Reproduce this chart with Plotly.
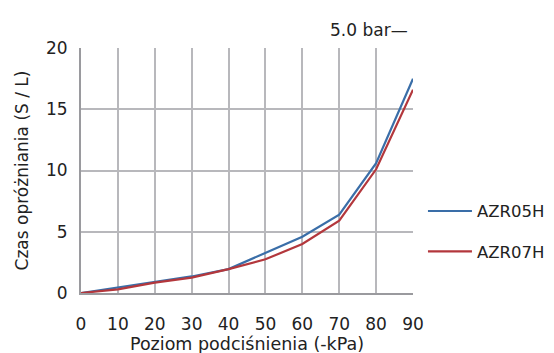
import plotly.graph_objects as go

pressure_kpa = [0, 10, 20, 30, 40, 50, 60, 70, 80, 90]
azr05h = [0, 0.45, 0.85, 1.35, 1.95, 3.3, 4.6, 6.4, 10.6, 17.5]
azr07h = [0, 0.3, 0.85, 1.25, 1.95, 2.75, 4.0, 5.9, 10.1, 16.6]
series_names = ["AZR05H", "AZR07H"]
x_ticks = [0, 10, 20, 30, 40, 50, 60, 70, 80, 90]
y_ticks = [0, 5, 10, 15, 20]

FONT = "DejaVu Sans"
TXT = "#222222"
FS = 17

fig = go.Figure()
fig.add_trace(go.Scatter(x=pressure_kpa, y=azr05h, mode="lines", name=series_names[0],
                         legendgroup="a", line=dict(color="#3a6ea8", width=2.2)))
fig.add_trace(go.Scatter(x=pressure_kpa, y=azr07h, mode="lines", name=series_names[1],
                         legendgroup="b", line=dict(color="#b3373c", width=2.2)))

fig.update_layout(
    width=554, height=353,
    margin=dict(l=73, r=149, t=40, b=68),
    plot_bgcolor="white", paper_bgcolor="white",
    font=dict(family=FONT, size=FS, color=TXT),
    showlegend=True,
    legend=dict(x=1.030, xanchor="left", y=0.405, yanchor="top",
                bgcolor="rgba(0,0,0,0)", tracegroupgap=16, itemwidth=44,
                font=dict(family=FONT, size=16.5, color=TXT)),
    annotations=[dict(text="5.0 bar—", x=0.991, xref="paper", xanchor="right",
                      y=1.0735, yref="paper", yanchor="middle",
                      showarrow=False, font=dict(family=FONT, size=FS, color=TXT))],
)
fig.update_xaxes(range=[0, 90], tickvals=x_ticks, showgrid=True, gridcolor="#b8b8bc",
                 gridwidth=1.5, showline=True, linecolor="#9a9a9e", linewidth=2,
                 ticks="", zeroline=False, ticklabelstandoff=15, automargin=False,
                 title=dict(text="Poziom podciśnienia (-kPa)", standoff=3,
                            font=dict(family=FONT, size=17.5, color=TXT)))
fig.update_yaxes(range=[0, 20], tickvals=y_ticks, showgrid=True, gridcolor="#b8b8bc",
                 gridwidth=1.5, showline=True, linecolor="#9a9a9e", linewidth=2,
                 ticks="", zeroline=False, ticklabelstandoff=8, automargin=False,
                 title=dict(text="Czas opróżniania (S / L)", standoff=13,
                            font=dict(family=FONT, size=FS, color=TXT)))

fig.write_html("out.html")
